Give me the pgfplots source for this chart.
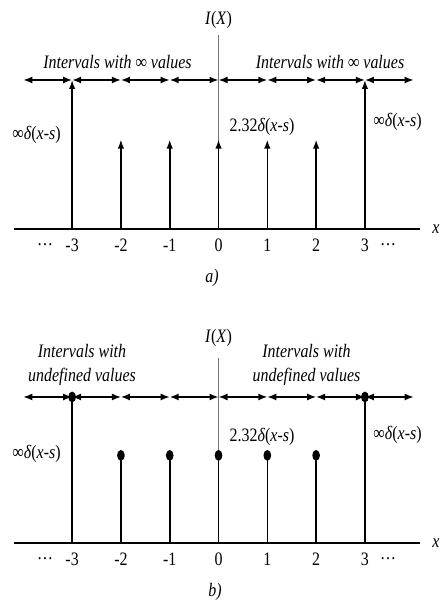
\documentclass[border=0pt]{standalone}
\usepackage{fontspec}
\setmainfont{Liberation Serif}[FakeStretch=0.84]
\usepackage{pgfplots}
\pgfplotsset{compat=1.18}
\usetikzlibrary{arrows.meta}
\newcommand{\tf}{\fontsize{19}{24}\selectfont}
\pgfplotsset{
  stemaxis/.style={
    scale only axis, width=406pt,
    axis lines=middle, axis line style={-},
    x axis line style={line width=1.3pt, black},
    y axis line style={line width=0.6pt, black!55},
    xmin=-4.191, xmax=4.129, ymin=0,
    xtick={-3,-2,-1,0,1,2,3}, xticklabels={-3,-2,-1,0,1,2,3}, ytick=\empty,
    major tick length=0pt, hide obscured x ticks=false,
    xticklabel style={font=\tf, anchor=center, yshift=-16pt},
    clip=false,
  },
}
\begin{document}
\begin{tikzpicture}
\path[use as bounding box] (0,0) rectangle (442pt,612pt);
% ---------------- panel a ----------------
\begin{axis}[stemaxis, at={(14pt,383pt)}, anchor=south west, height=194pt, ymax=1.302]
\addplot[black, line width=1.6pt, quiver={u=0,v=\thisrow{h}},
  -{Latex[length=9pt,width=6.5pt]}] table[x=x,y=y0] {
x y0 h
-3 0 1
-2 0 0.6
-1 0 0.6
0 0 0.6
1 0 0.6
2 0 0.6
3 0 1
};
\addplot[black, line width=1.6pt, quiver={u=1,v=0},
  {Latex[length=9pt,width=7pt]}-{Latex[length=9pt,width=7pt]}] coordinates {
(-4,1) (-3,1) (-2,1) (-1,1) (0,1) (1,1) (2,1) (3,1)};
\node[font=\tf] at (axis cs:0,1.403) {\textit{I}(\textit{X})};
\node[font=\tf\itshape] at (axis cs:-2.07,1.121) {Intervals with ∞ values};
\node[font=\tf\itshape] at (axis cs:2.285,1.121) {Intervals with ∞ values};
\node[font=\tf] at (axis cs:-3.73,0.631) {∞\textit{δ}(\textit{x}-\textit{s})};
\node[font=\tf] at (axis cs:0.891,0.685) {2.32\textit{δ}(\textit{x}-\textit{s})};
\node[font=\tf] at (axis cs:3.668,0.718) {∞\textit{δ}(\textit{x}-\textit{s})};
\node[font=\tf] at (axis cs:-3.555,-0.107) {…};
\node[font=\tf] at (axis cs:3.473,-0.107) {…};
\node[font=\tf\itshape] at (axis cs:4.457,0) {x};
\node[font=\tf\itshape] at (axis cs:-0.133,-0.329) {a)};
\end{axis}
% ---------------- panel b ----------------
\begin{axis}[stemaxis, at={(14pt,69pt)}, anchor=south west, height=185pt, ymax=1.267]
\addplot[black, line width=1.6pt, ycomb, mark=*, mark size=3pt,
  mark options={yscale=1.5}] coordinates {
(-3,1) (-2,0.6) (-1,0.6) (0,0.6) (1,0.6) (2,0.6) (3,1)};
\addplot[black, line width=1.4pt, quiver={u=1,v=0},
  {Latex[length=9pt,width=7pt]}-{Latex[length=9pt,width=7pt]}] coordinates {
(-4,1) (-3,1) (-2,1) (-1,1) (0,1) (1,1) (2,1) (3,1)};
\node[font=\tf] at (axis cs:0,1.404) {\textit{I}(\textit{X})};
\node[font=\tf\itshape, align=center] at (axis cs:-2.797,1.219) {Intervals with\\undefined values};
\node[font=\tf\itshape, align=center] at (axis cs:1.803,1.219) {Intervals with\\undefined values};
\node[font=\tf] at (axis cs:-3.73,0.61) {∞\textit{δ}(\textit{x}-\textit{s})};
\node[font=\tf] at (axis cs:0.891,0.726) {2.32\textit{δ}(\textit{x}-\textit{s})};
\node[font=\tf] at (axis cs:3.668,0.74) {∞\textit{δ}(\textit{x}-\textit{s})};
\node[font=\tf] at (axis cs:-3.555,-0.11) {…};
\node[font=\tf] at (axis cs:3.473,-0.11) {…};
\node[font=\tf\itshape] at (axis cs:4.457,0) {x};
\node[font=\tf\itshape] at (axis cs:-0.07,-0.336) {b)};
\end{axis}
\end{tikzpicture}
\end{document}
